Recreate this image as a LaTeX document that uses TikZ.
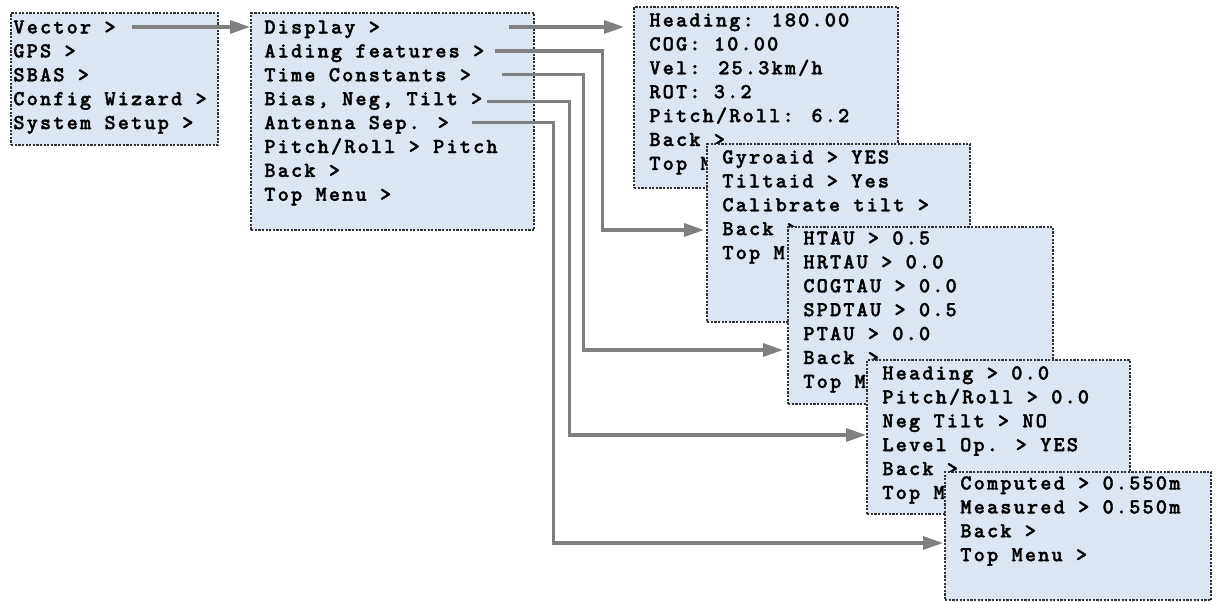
\documentclass[tikz,border=0pt]{standalone}
\usepackage{fontspec}
\usetikzlibrary{calc,arrows.meta}
\newfontfamily\menufont{lmmonolt10-bold}[Extension=.otf, LetterSpace=10, FakeBold=1.6]
\definecolor{boxfill}{RGB}{220,230,242}
\definecolor{boxline}{RGB}{50,50,50}
\definecolor{connc}{RGB}{128,128,128}
\tikzset{
  mbox/.style={draw=boxline, fill=boxfill, line width=1.2pt, dash pattern=on 1.1pt off 0.7pt, inner sep=0pt, anchor=north west},
  mtext/.style={inner sep=0pt, anchor=west, text height=6.5pt, text depth=0pt, font=\menufont\fontsize{10.65pt}{12pt}\selectfont},
  conn/.style={draw=connc, line width=1.6pt, -{Triangle[length=10pt,width=6.5pt]}, fill=none}
}
% name, x, y, w, h, text x offset, first line offset, lines
\newcommand\menubox[8]{%
  \node[mbox, minimum width=#4*0.5pt, minimum height=#5*0.5pt] (#1) at (#2,#3) {};
  \foreach \t [count=\i] in {#8} {
    \node[mtext] (#1-\i) at ($(#1.north west)+(#6,#7+23.9*\i-23.9)$) {\t};
  }%
}
\begin{document}
\begin{tikzpicture}[x=0.5pt,y=-0.5pt]
\useasboundingbox (0,0) rectangle (1216,601);
\menubox{b1}{10}{12}{207}{132}{3}{15}{Vector >,GPS >,SBAS >,Config Wizard >,System Setup >}
\menubox{b2}{250}{12}{283}{217}{14}{15}{Display >,Aiding features >,Time Constants >,{Bias, Neg, Tilt >},Antenna Sep. >,Pitch/Roll > Pitch,Back >,Top Menu >}
\menubox{b3}{633}{6}{264}{181}{16}{14}{Heading: 180.00,COG: 10.00,Vel: 25.3km/h,ROT: 3.2,Pitch/Roll: 6.2,Back >,Top Menu >}
\menubox{b4}{706}{143}{263}{178}{16}{14}{Gyroaid > YES,Tiltaid > Yes,Calibrate tilt >,Back >,Top Menu >}
\menubox{b5}{787}{226}{265}{177}{16}{12}{HTAU > 0.5,HRTAU > 0.0,COGTAU > 0.0,SPDTAU > 0.5,PTAU > 0.0,Back >,Top Menu >}
\menubox{b6}{866}{359}{263}{154}{16}{14}{Heading > 0.0,Pitch/Roll > 0.0,Neg Tilt > NO,Level Op. > YES,Back >,Top Menu >}
\menubox{b7}{944}{471}{266}{128}{16}{12}{Computed > 0.550m,Measured > 0.550m,Back >,Top Menu >}
% connectors
\draw[conn] ($(b1.east |- b1-1.east)+(-87,0)$) -- (b2.west |- b1-1.east);
\draw[conn] ($(b2.east |- b2-1.east)+(-26,0)$) -- ($(b3.west |- b2-1.east)+(-9,0)$);
\draw[conn] ($(b2.east |- b2-2.east)+(-40,0)$) -- ++(107,0) |- ($(b4.north west)+(-2,87)$);
\draw[conn] ($(b2.east |- b2-3.east)+(-33,0)$) -- ++(81,0) |- ($(b5.north west)+(-4,124)$);
\draw[conn] ($(b2.east |- b2-4.east)+(-48,3)$) -- ++(82,0) |- ($(b6.north west)+(0,76)$);
\draw[conn] ($(b2.east |- b2-5.east)+(-63,0)$) -- ++(81,0) |- ($(b7.north west)+(-1,72)$);
\end{tikzpicture}
\end{document}
